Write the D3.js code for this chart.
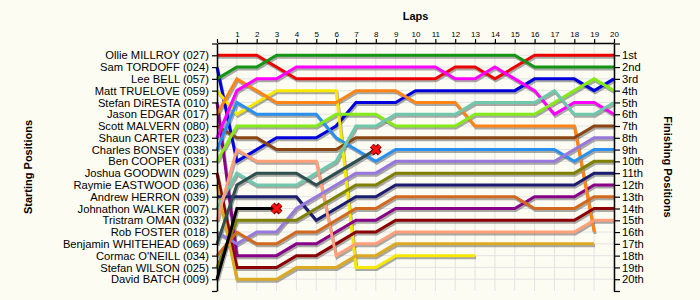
<!DOCTYPE html>
<html>
<head>
<meta charset="utf-8">
<script src="https://cdn.jsdelivr.net/npm/d3@7"></script>
<style>
body { margin: 0; background: #fcfcf3; }
svg { display: block; font-family: "Liberation Sans", Arial, sans-serif; }
</style>
</head>
<body>
<svg id="chart" width="700" height="300"></svg>
<script>
// drivers in starting order
const drivers = [
    "Ollie MILLROY (027)", "Sam TORDOFF (024)", "Lee BELL (057)", "Matt TRUELOVE (059)",
    "Stefan DiRESTA (010)", "Jason EDGAR (017)", "Scott MALVERN (080)", "Shaun CARTER (023)",
    "Charles BONSEY (038)", "Ben COOPER (031)", "Joshua GOODWIN (029)", "Raymie EASTWOOD (036)",
    "Andrew HERRON (039)", "Johnathon WALKER (007)", "Tristram OMAN (032)", "Rob FOSTER (018)",
    "Benjamin WHITEHEAD (069)", "Cormac O'NEILL (034)", "Stefan WILSON (025)", "David BATCH (009)"
];

const driverColors = [
    "#ee0000", "#0000dd", "#149614", "#f6e800", "#880088", "#ff8418", "#8b4513", "#ff00ff",
    "#2a90f0", "#84ea18", "#8b0000", "#dcaa22", "#1c1c70", "#70c8ac", "#ffa07a", "#9878dc",
    "#2f4f4f", "#d2691e", "#808000", "#000000"
];

// position at lap 0 (grid) .. last lap completed
const lapPositions = [
    [1, 1, 1, 2, 3, 3, 3, 3, 3, 3, 3, 3, 2, 2, 3, 2, 1, 1, 1, 1, 1],
    [2, 10, 9, 8, 8, 8, 7, 5, 5, 5, 4, 4, 4, 4, 4, 4, 3, 3, 3, 4, 3],
    [3, 2, 2, 1, 1, 1, 1, 1, 1, 1, 1, 1, 1, 1, 1, 1, 2, 2, 2, 2, 2],
    [4, 6, 5, 4, 4, 4, 4, 19, 19, 18, 18, 18, 18, 18],
    [5, 18, 18, 18, 17, 17, 16, 15, 15, 14, 14, 14, 14, 14, 14, 14, 13, 13, 13, 12, 12],
    [6, 3, 4, 5, 5, 5, 5, 4, 4, 4, 5, 5, 5, 7, 7, 7, 7, 7, 7, 16],
    [7, 8, 8, 9, 9, 9, 9, 8, 8, 8, 8, 8, 8, 8, 8, 8, 8, 8, 8, 7, 7],
    [8, 4, 3, 3, 2, 2, 2, 2, 2, 2, 2, 2, 3, 3, 2, 3, 4, 6, 5, 5, 6],
    [9, 5, 6, 6, 6, 6, 8, 9, 10, 9, 9, 9, 9, 9, 9, 9, 9, 9, 10, 9, 9],
    [10, 7, 7, 7, 7, 7, 6, 6, 6, 7, 7, 7, 7, 6, 6, 6, 6, 5, 4, 3, 4],
    [11, 19, 19, 19, 18, 18, 17, 16, 16, 15, 15, 15, 15, 15, 15, 15, 15, 15, 15, 14, 14],
    [12, 20, 20, 20, 19, 19, 19, 18, 18, 17, 17, 17, 17, 17, 17, 17, 17, 17, 17, 17],
    [13, 13, 13, 13, 13, 15, 14, 13, 13, 12, 12, 12, 12, 12, 12, 12, 12, 12, 12, 11, 11],
    [14, 11, 12, 12, 12, 11, 10, 7, 7, 6, 6, 6, 6, 5, 5, 5, 5, 4, 6, 6, 5],
    [15, 9, 10, 10, 10, 10, 18, 17, 17, 16, 16, 16, 16, 16, 16, 16, 16, 16, 16, 15, 15],
    [16, 17, 16, 16, 14, 13, 12, 11, 11, 10, 10, 10, 10, 10, 10, 10, 10, 10, 9, 8, 8],
    [17, 12, 11, 11, 11, 12, 11, 10, 9],
    [18, 16, 17, 17, 16, 16, 15, 14, 14, 13, 13, 13, 13, 13, 13, 13, 14, 14, 14, 13, 13],
    [19, 15, 15, 15, 15, 14, 13, 12, 12, 11, 11, 11, 11, 11, 11, 11, 11, 11, 11, 10, 10],
    [20, 14, 14, 14]
];

// drivers marked with a cross where they stopped
const crashed = ["David BATCH (009)", "Benjamin WHITEHEAD (069)"];

const laps = d3.range(0, 21);
const finishLabels = d3.range(1, 21).map(n => n + (n === 1 ? "st" : n === 2 ? "nd" : n === 3 ? "rd" : "th"));

const svg = d3.select("#chart");
const plotLeft = 217, plotRight = 614, plotTop = 43, plotBottom = 291;

const x = d3.scaleLinear().domain([0, 20]).range([plotLeft, plotRight]);
const y = d3.scaleLinear().domain([0, 21]).range([plotTop + 0.5, plotBottom]);

// grid
const grid = svg.append("g").attr("stroke", "#e3e3e3").attr("stroke-width", 1);
grid.selectAll(".v").data(laps.slice(1)).enter().append("line")
    .attr("x1", d => x(d)).attr("x2", d => x(d))
    .attr("y1", plotTop).attr("y2", plotBottom);
grid.selectAll(".h").data(d3.range(1, 21)).enter().append("line")
    .attr("x1", plotLeft).attr("x2", plotRight)
    .attr("y1", d => y(d)).attr("y2", d => y(d));

const line = d3.line().x((d, i) => x(i)).y(d => y(d));

// shadows first, then the coloured lines on top
svg.append("g").selectAll("path").data(lapPositions).enter().append("path")
    .attr("d", line)
    .attr("fill", "none")
    .attr("stroke", "#555")
    .attr("stroke-opacity", 0.5)
    .attr("stroke-width", 3)
    .attr("transform", "translate(1,2)");

svg.append("g").selectAll("path").data(lapPositions).enter().append("path")
    .attr("d", line)
    .attr("fill", "none")
    .attr("stroke", (d, i) => driverColors[i])
    .attr("stroke-width", 3);

// crosses
crashed.forEach(name => {
    const p = lapPositions[drivers.indexOf(name)];
    const cx = x(p.length - 1), cy = y(p[p.length - 1]);
    const s = 4;
    const d = `M${cx - s},${cy - s}L${cx + s},${cy + s}M${cx - s},${cy + s}L${cx + s},${cy - s}`;
    svg.append("path").attr("d", d).attr("stroke", "#700").attr("stroke-width", 5.5);
    svg.append("path").attr("d", d).attr("stroke", "#ff1010").attr("stroke-width", 3);
});

// axes
const axisTop = svg.append("g")
    .attr("transform", `translate(0,${plotTop})`)
    .call(d3.axisTop(x).tickValues(laps).tickSize(4).tickSizeOuter(0).tickPadding(2)
        .tickFormat(d => d === 0 ? "" : d));
axisTop.selectAll("text").style("font-size", "8px").attr("fill", "#000");

const axisLeft = svg.append("g")
    .attr("transform", `translate(${plotLeft},0)`)
    .call(d3.axisLeft(y).tickValues(d3.range(0, 22)).tickSize(5).tickSizeOuter(0).tickPadding(3)
        .tickFormat(p => drivers[p - 1] || ""));
axisLeft.selectAll("text").style("font-size", "11.2px").attr("fill", "#000");

const axisRight = svg.append("g")
    .attr("transform", `translate(${plotRight},0)`)
    .call(d3.axisRight(y).tickValues(d3.range(0, 22)).tickSize(6).tickSizeOuter(0).tickPadding(2)
        .tickFormat(p => finishLabels[p - 1] || ""));
axisRight.selectAll("text").style("font-size", "11.2px").attr("fill", "#000");

svg.selectAll(".domain").attr("stroke-width", 1.5);
svg.selectAll(".tick line").attr("stroke-width", 1.2);

// titles
svg.append("text")
    .attr("x", (plotLeft + plotRight) / 2).attr("y", 20)
    .attr("text-anchor", "middle")
    .style("font-size", "11px").style("font-weight", "bold")
    .text("Laps");

svg.append("text")
    .attr("transform", "translate(32,167) rotate(-90)")
    .attr("text-anchor", "middle")
    .style("font-size", "11px").style("font-weight", "bold")
    .text("Starting Positions");

svg.append("text")
    .attr("transform", "translate(664,167) rotate(90)")
    .attr("text-anchor", "middle")
    .style("font-size", "11px").style("font-weight", "bold")
    .text("Finishing Positions");
</script>
</body>
</html>
